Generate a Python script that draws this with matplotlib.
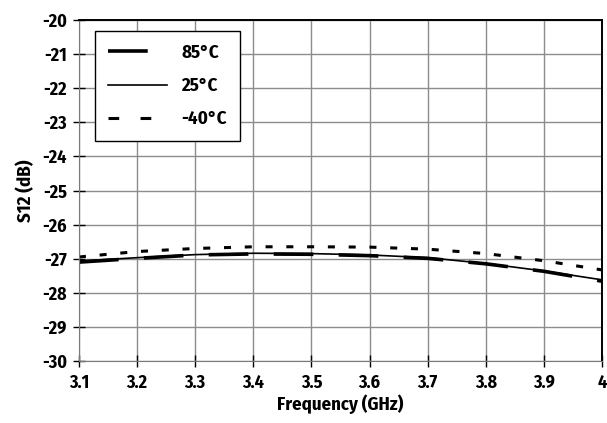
import matplotlib.pyplot as plt
from matplotlib.lines import Line2D

plt.rcParams['font.family'] = ['Fira Sans Condensed', 'PT Sans Narrow', 'DejaVu Sans']
plt.rcParams['font.weight'] = 'bold'
plt.rcParams['axes.unicode_minus'] = False

freq = [3.1, 3.2, 3.3, 3.4, 3.5, 3.6, 3.7, 3.8, 3.9, 4.0]
s12_85 = [-27.10, -26.99, -26.89, -26.86, -26.87, -26.91, -26.99, -27.15, -27.37, -27.66]
s12_25 = [-27.07, -26.97, -26.88, -26.84, -26.85, -26.89, -26.97, -27.14, -27.36, -27.62]
s12_m40 = [-26.95, -26.79, -26.70, -26.65, -26.65, -26.66, -26.72, -26.85, -27.06, -27.33]
labels = ['85°C', '25°C', '-40°C']

fig = plt.figure(figsize=(6.07, 4.23), dpi=100)
ax = fig.add_axes([0.130, 0.1466, 0.862, 0.806])

ax.plot(freq, s12_85, color='black', lw=2.6, dashes=(11, 7))
ax.plot(freq, s12_25, color='black', lw=1.2)
ax.plot(freq, s12_m40, color='black', lw=2.2, dashes=(2.3, 4.5))

ax.set_xlim(3.1, 4.0)
ax.set_ylim(-30, -20)
ax.set_xticks(freq)
ax.set_xticklabels(['3.1', '3.2', '3.3', '3.4', '3.5', '3.6', '3.7', '3.8', '3.9', '4'])
ax.set_yticks(range(-30, -19))
ax.grid(True, color='#8c8c8c', lw=1)
ax.tick_params(direction='inout', length=9, width=1, labelsize=13)
ax.tick_params(axis='x', pad=5)
ax.tick_params(axis='y', pad=4)
for side in ['left', 'bottom']:
    ax.spines[side].set_color('#7a7a7a')
for side in ['top', 'right']:
    ax.spines[side].set_color('black')
    ax.spines[side].set_linewidth(1.4)

ax.set_xlabel('Frequency (GHz)', fontsize=13.5, fontweight='bold', labelpad=2)
ax.set_ylabel('S12 (dB)', fontsize=13.5, fontweight='bold', labelpad=5)

# legend handles
handles = [
    Line2D([], [], color='black', lw=2.6, dashes=(11, 7)),
    Line2D([], [], color='black', lw=1.2),
    Line2D([], [], color='black', lw=2.2, dashes=(3.5, 7)),
]
leg = ax.legend(handles, labels, loc='upper left', bbox_to_anchor=(0.031, 0.968),
                fontsize=13.5, handlelength=3.15, handletextpad=0.75, labelspacing=0.82,
                borderpad=0.7, fancybox=False, framealpha=1, edgecolor='black',
                borderaxespad=0)
leg.get_frame().set_linewidth(1)

fig.savefig('out.png', dpi=100)
plt.close(fig)
